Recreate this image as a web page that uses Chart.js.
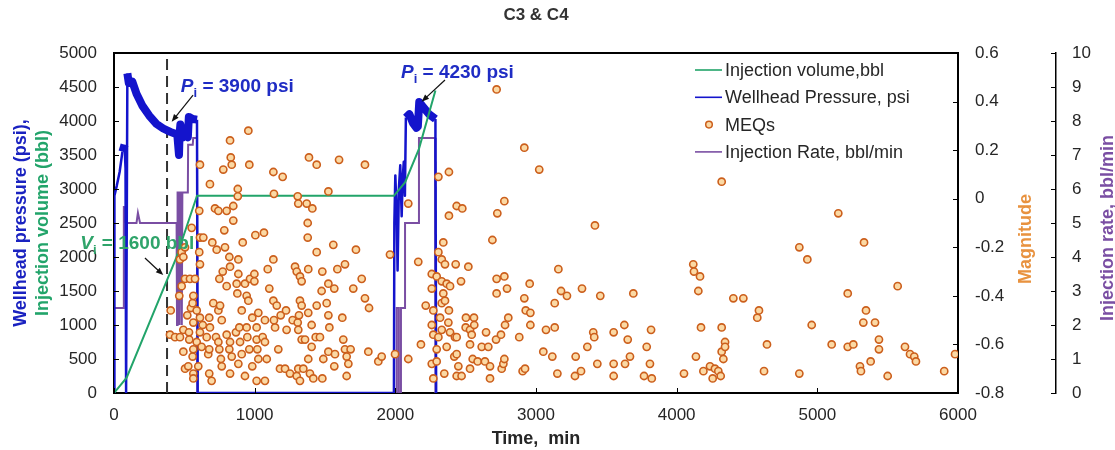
<!DOCTYPE html>
<html>
<head>
<meta charset="utf-8">
<title>C3 &amp; C4</title>
<script src="https://cdn.jsdelivr.net/npm/chart.js@4.4.1/dist/chart.umd.min.js"></script>
<style>
    body { margin: 0; background: #ffffff; }
</style>
</head>
<body>
<canvas id="injection_chart" width="1115" height="450"></canvas>
<script>
/**
 * axis ticks and their labels
 */
let timeTicks = [0, 1000, 2000, 3000, 4000, 5000, 6000];
let timeTickLabels = ['0', '1000', '2000', '3000', '4000', '5000', '6000'];
let pressureTicks = [0, 500, 1000, 1500, 2000, 2500, 3000, 3500, 4000, 4500, 5000];
let pressureTickLabels = ['0', '500', '1000', '1500', '2000', '2500', '3000', '3500', '4000', '4500', '5000'];
let magnitudeTicks = [-0.8, -0.6, -0.4, -0.2, 0, 0.2, 0.4, 0.6];
let magnitudeTickLabels = ['-0.8', '-0.6', '-0.4', '-0.2', '0', '0.2', '0.4', '0.6'];
let rateTicks = [0, 1, 2, 3, 4, 5, 6, 7, 8, 9, 10];
let rateTickLabels = ['0', '1', '2', '3', '4', '5', '6', '7', '8', '9', '10'];

/**
 * injection volume (bbl) over time (min)
 */
let volumeTime = [0, 90, 440, 590, 1990, 2070, 2168, 2285];
let volumeValue = [0, 225, 1975, 2900, 2900, 3100, 3590, 4450];

/**
 * wellhead pressure (psi) over time (min)
 */
let pressureTime = [0, 3, 20, 40, 60, 75, 82, 86, 92, 95, 105, 130, 160, 200, 250, 300, 350, 400, 450, 462,
    466, 472, 480, 490, 510, 525, 532, 560, 590, 595, 1990, 1993, 2000, 2010, 2016, 2025, 2035, 2045, 2052, 2060,
    2068, 2075, 2100, 2125, 2150, 2160, 2170, 2200, 2240, 2285, 2290];
let pressureValue = [0, 2900, 3050, 3250, 3550, 3650, 3300, 0, 0, 4700, 4560, 4580, 4400, 4230, 4080, 3960, 3890, 3840, 3800, 3500,
    3800, 3950, 3780, 3760, 3800, 3760, 4060, 4030, 4020, 0, 0, 2500, 3200, 2600, 1800, 3000, 3350, 2600, 3150, 3400,
    2900, 4050, 4100, 3970, 3900, 3920, 4280, 4200, 4100, 4030, 0];

/**
 * injection rate (bbl/min) over time (min)
 */
let rateTime = [0, 70, 70, 85, 160, 170, 185, 445, 448, 452, 462, 466, 470, 478, 482, 486, 525, 527, 560, 563,
    590, 592, 2010, 2010, 2025, 2025, 2040, 2040, 2069, 2069, 2168, 2168, 2282, 2285];
let rateValue = [2.5, 2.5, 5.5, 5.0, 5.0, 5.3, 5.0, 5.0, 2.0, 5.9, 5.9, 2.0, 5.9, 5.9, 2.0, 5.9, 5.9, 7.3, 7.3, 7.5,
    7.5, 0, 0, 2.5, 2.5, 0, 0, 2.5, 2.5, 5.0, 5.0, 7.5, 7.5, 0];

/**
 * microseismic events: time (min) and magnitude
 */
let meqTime = [
    398, 403, 434, 464, 469, 469, 481, 481, 493, 493,
    493, 505, 505, 505, 521, 528, 533, 535, 540, 547,
    552, 559, 559, 564, 564, 564, 564, 564, 576, 588,
    588, 599, 606, 606, 611, 611, 611, 611, 611, 623,
    631, 635, 659, 670, 677, 677, 677, 682, 682, 694,
    699, 706, 718, 725, 730, 742, 742, 742, 749, 749,
    754, 760, 766, 766, 773, 777, 784, 789, 801, 801,
    801, 820, 820, 825, 825, 825, 825, 830, 837, 837,
    848, 848, 867, 872, 877, 880, 880, 884, 884, 884,
    891, 896, 908, 908, 915, 931, 931, 943, 943, 948,
    955, 955, 962, 962, 967, 983, 983, 998, 998, 1005,
    1014, 1014, 1014, 1019, 1026, 1026, 1057, 1066, 1073, 1073,
    1073, 1086, 1093, 1104, 1133, 1133, 1133, 1137, 1137, 1145,
    1157, 1168, 1180, 1185, 1199, 1216, 1223, 1227, 1251, 1270,
    1287, 1299, 1299, 1306, 1306, 1310, 1310, 1310, 1315, 1322,
    1322, 1322, 1334, 1334, 1334, 1346, 1358, 1370, 1377, 1377,
    1381, 1381, 1381, 1386, 1393, 1405, 1405, 1410, 1417, 1434,
    1441, 1441, 1441, 1464, 1476, 1481, 1481, 1488, 1512, 1524,
    1524, 1524, 1524, 1531, 1559, 1566, 1566, 1571, 1588, 1600,
    1623, 1630, 1642, 1642, 1654, 1654, 1666, 1682, 1701, 1720,
    1761, 1784, 1784, 1808, 1813, 1879, 1903, 1962, 1998, 2092,
    2092, 2163, 2182, 2216, 2259, 2259, 2259, 2259, 2270, 2270,
    2270, 2294, 2294, 2294, 2306, 2306, 2306, 2318, 2330, 2330,
    2330, 2330, 2341, 2341, 2348, 2353, 2353, 2365, 2365, 2377,
    2381, 2381, 2381, 2389, 2389, 2419, 2424, 2429, 2436, 2436,
    2436, 2436, 2448, 2467, 2471, 2476, 2500, 2502, 2519, 2531,
    2531, 2531, 2543, 2550, 2559, 2561, 2585, 2614, 2637, 2645,
    2661, 2673, 2673, 2690, 2716, 2720, 2720, 2720, 2725, 2751,
    2756, 2768, 2775, 2775, 2775, 2780, 2794, 2803, 2881, 2905,
    2917, 2917, 2922, 2927, 2955, 2960, 2960, 3023, 3052, 3071,
    3116, 3133, 3133, 3152, 3159, 3178, 3220, 3277, 3282, 3320,
    3327, 3365, 3407, 3414, 3419, 3436, 3457, 3552, 3552, 3552,
    3628, 3633, 3652, 3668, 3692, 3768, 3787, 3810, 3818, 3823,
    4052, 4118, 4123, 4137, 4154, 4166, 4173, 4190, 4237, 4256,
    4272, 4296, 4313, 4320, 4320, 4320, 4332, 4344, 4344, 4403,
    4474, 4573, 4585, 4621, 4642, 4872, 4872, 4929, 4960, 5102,
    5149, 5216, 5216, 5256, 5303, 5310, 5327, 5332, 5346, 5379,
    5410, 5438, 5438, 5500, 5571, 5623, 5659, 5689, 5701, 5902, 5979
];
let meqMagnitude = [
    -0.56, -0.46, -0.57, -0.40, -0.57, -0.25, -0.22, -0.36, -0.24, -0.54,
    -0.63, -0.20, -0.33, -0.70, -0.48, -0.69, -0.55, -0.58, -0.33, -0.45,
    -0.12, -0.43, -0.65, -0.40, -0.51, -0.62, -0.72, -0.74, -0.33, -0.46,
    -0.59, -0.69, -0.05, -0.22, 0.14, -0.16, -0.27, -0.49, -0.55, -0.61,
    -0.52, -0.16, -0.57, -0.64, -0.49, -0.62, -0.72, 0.06, -0.53, -0.75,
    -0.18, -0.43, -0.04, -0.57, -0.21, -0.05, -0.46, -0.59, -0.33, -0.62,
    -0.44, -0.66, -0.50, -0.69, -0.30, 0.12, -0.13, -0.20, -0.05, -0.36,
    -0.56, -0.24, -0.62, 0.24, -0.28, -0.59, -0.72, 0.17, 0.14, -0.65,
    -0.03, -0.09, -0.55, -0.35, -0.39, 0.04, 0.01, -0.25, -0.31, -0.68,
    -0.53, -0.59, -0.46, -0.64, -0.18, -0.35, -0.73, -0.40, -0.53, -0.57,
    0.28, -0.42, 0.14, -0.62, -0.33, -0.49, -0.69, -0.31, -0.34, -0.15,
    -0.53, -0.58, -0.75, -0.62, -0.47, -0.66, -0.57, -0.14, -0.50, -0.59,
    -0.75, -0.66, -0.29, -0.37, 0.11, -0.25, -0.42, 0.02, -0.50, -0.53,
    -0.44, -0.62, -0.70, -0.48, 0.09, -0.70, -0.46, -0.54, -0.72, -0.50,
    -0.28, -0.30, -0.73, 0.01, -0.51, -0.02, -0.54, -0.70, -0.48, -0.32,
    -0.42, -0.75, -0.34, -0.44, -0.58, -0.70, -0.58, -0.02, -0.10, -0.16,
    -0.29, -0.47, -0.66, 0.17, -0.72, -0.52, -0.61, -0.04, -0.74, -0.57,
    0.14, -0.22, -0.44, -0.57, -0.38, -0.30, -0.74, -0.66, -0.43, 0.03,
    -0.35, -0.48, -0.63, -0.53, -0.19, -0.37, -0.69, -0.64, -0.29, 0.16,
    -0.49, -0.58, -0.27, -0.62, -0.65, -0.73, -0.68, -0.62, -0.37, -0.21,
    -0.33, 0.14, -0.41, -0.63, -0.45, -0.67, -0.65, -0.23, -0.64, -0.02,
    -0.66, -0.26, -0.60, -0.44, -0.31, -0.37, -0.52, -0.68, -0.46, -0.56,
    -0.74, -0.32, -0.62, -0.67, 0.09, -0.22, -0.57, -0.49, -0.25, -0.34,
    -0.43, -0.54, -0.18, -0.39, -0.72, -0.27, -0.42, -0.35, -0.61, -0.51,
    0.11, -0.07, -0.46, -0.36, -0.55, -0.65, -0.57, -0.27, -0.03, -0.57,
    -0.64, -0.73, -0.69, -0.34, -0.73, -0.04, -0.53, -0.49, -0.28, -0.54,
    -0.60, -0.70, -0.56, -0.66, -0.49, -0.52, -0.67, -0.61, -0.67, -0.55,
    -0.61, -0.69, -0.74, -0.17, -0.58, 0.45, -0.33, -0.39, -0.06, -0.56,
    -0.70, -0.68, -0.01, -0.32, -0.66, -0.52, -0.37, -0.49, -0.57, -0.71,
    0.21, -0.41, -0.70, -0.46, -0.35, -0.47, -0.52, 0.12, -0.63, -0.54,
    -0.65, -0.43, -0.53, -0.72, -0.29, -0.38, -0.40, -0.73, -0.65, -0.71,
    -0.37, -0.61, -0.55, -0.57, -0.11, -0.68, -0.40, -0.55, -0.68, -0.73,
    -0.52, -0.68, -0.58, -0.65, -0.39, -0.73, -0.61, -0.68, -0.54, -0.74,
    -0.72, -0.27, -0.30, -0.65, -0.38, -0.32, -0.53, -0.71, -0.69, -0.74,
    -0.70, -0.71, -0.73, 0.07, -0.53, -0.63, -0.66, -0.59, -0.61, -0.41,
    -0.41, -0.49, -0.46, -0.71, -0.60, -0.20, -0.72, -0.25, -0.52, -0.60,
    -0.06, -0.39, -0.61, -0.60, -0.69, -0.71, -0.51, -0.18, -0.46, -0.67,
    -0.51, -0.58, -0.62, -0.73, -0.36, -0.61, -0.64, -0.65, -0.67, -0.71, -0.64
];

/**
 * time of the dashed marker line (min)
 */
let markerTime = [377, 377];
let markerValue = [0, 5000];


const FONT_FAMILY = '"Liberation Sans", Arial, sans-serif';
const TEXT_COLOR = '#262626';
const VOLUME_GREEN = '#22a46a';
const PRESSURE_BLUE = '#1414cc';
const RATE_PURPLE = '#7a4ea3';
const MEQ_BORDER = '#cc5f1c';
const MEQ_FILL = '#fbd9a4';
const MAGNITUDE_ORANGE = '#e8923f';

Chart.defaults.font.family = FONT_FAMILY;


/**
 * turns two parallel arrays into {x, y} points
 */
function toPoints(xs, ys) {
    return xs.map((x, i) => ({ x: x, y: ys[i] }));
}


/**
 * sets the ticks of a scale from a list of values
 */
function fixedTicks(values) {
    return function (scale) {
        scale.ticks = values.map(v => ({ value: v }));
    };
}


/**
 * draws a thin black arrow with a filled head at (x2, y2)
 */
function drawArrow(ctx, x1, y1, x2, y2) {
    const angle = Math.atan2(y2 - y1, x2 - x1);
    const head = 8;
    ctx.strokeStyle = '#111';
    ctx.fillStyle = '#111';
    ctx.lineWidth = 1.2;
    ctx.beginPath();
    ctx.moveTo(x1, y1);
    ctx.lineTo(x2 - Math.cos(angle) * head * 0.7, y2 - Math.sin(angle) * head * 0.7);
    ctx.stroke();
    ctx.beginPath();
    ctx.moveTo(x2, y2);
    ctx.lineTo(x2 - head * Math.cos(angle - 0.38), y2 - head * Math.sin(angle - 0.38));
    ctx.lineTo(x2 - head * Math.cos(angle + 0.38), y2 - head * Math.sin(angle + 0.38));
    ctx.closePath();
    ctx.fill();
}


/**
 * draws a label like "P_i = 3900 psi" with an italic letter and a subscript
 */
function drawSubscriptLabel(ctx, x, y, letter, sub, rest, color) {
    ctx.fillStyle = color;
    ctx.textAlign = 'left';
    ctx.textBaseline = 'alphabetic';
    ctx.font = 'italic bold 19px ' + FONT_FAMILY;
    ctx.fillText(letter, x, y);
    x += ctx.measureText(letter).width;
    ctx.font = 'bold 13px ' + FONT_FAMILY;
    ctx.fillText(sub, x, y + 5);
    x += ctx.measureText(sub).width;
    ctx.font = 'bold 19px ' + FONT_FAMILY;
    ctx.fillText(rest, x, y);
}


/**
 * annotations placed in data units (time, pressure)
 */
const annotations = [
    { letter: 'P', sub: 'i', rest: ' = 3900 psi', t: 475, p: 4420, color: '#1f2cc4', arrow: [562, 4382, 410, 3990] },
    { letter: 'P', sub: 'i', rest: ' = 4230 psi', t: 2040, p: 4628, color: '#1f2cc4', arrow: [2353, 4603, 2187, 4284] },
    { letter: 'V', sub: 'i', rest: ' = 1600 bbl', t: -240, p: 2113, color: '#2fa46a', arrow: [220, 1985, 350, 1735] }
];


/**
 * plugin for the inward ticks, right axis titles, legend and annotations
 */
const chartDecorations = {
    id: 'chartDecorations',
    afterDraw(chart) {
        const ctx = chart.ctx;
        const area = chart.chartArea;
        const sx = chart.scales.x;
        const sy = chart.scales.y;
        const sm = chart.scales.mag;
        const sr = chart.scales.rate;
        ctx.save();

        // tick marks pointing into the plot
        ctx.strokeStyle = '#000';
        ctx.lineWidth = 1;
        ctx.beginPath();
        timeTicks.forEach(v => {
            const px = Math.round(sx.getPixelForValue(v)) + 0.5;
            ctx.moveTo(px, area.bottom);
            ctx.lineTo(px, area.bottom - 5);
        });
        pressureTicks.forEach(v => {
            const py = Math.round(sy.getPixelForValue(v)) + 0.5;
            ctx.moveTo(area.left, py);
            ctx.lineTo(area.left + 5, py);
        });
        magnitudeTicks.forEach(v => {
            const py = Math.round(sm.getPixelForValue(v)) + 0.5;
            ctx.moveTo(area.right, py);
            ctx.lineTo(area.right - 5, py);
        });
        rateTicks.forEach(v => {
            const py = Math.round(sr.getPixelForValue(v)) + 0.5;
            ctx.moveTo(sr.left, py);
            ctx.lineTo(sr.left - 5, py);
        });
        ctx.stroke();

        // right axis titles, reading upwards
        ctx.font = 'bold 18px ' + FONT_FAMILY;
        ctx.textAlign = 'center';
        ctx.textBaseline = 'middle';
        ctx.save();
        ctx.translate(sm.right - 30, (area.top + area.bottom) / 2 + 16);
        ctx.rotate(-Math.PI / 2);
        ctx.fillStyle = MAGNITUDE_ORANGE;
        ctx.fillText('Magnitude', 0, 0);
        ctx.restore();
        ctx.save();
        ctx.translate(sr.right - 7, (area.top + area.bottom) / 2 + 5);
        ctx.rotate(-Math.PI / 2);
        ctx.fillStyle = RATE_PURPLE;
        ctx.fillText('Injection rate, bbl/min', 0, 0);
        ctx.restore();

        // legend inside the plot, top right
        const legendDatasets = chart.data.datasets.filter(d => d.label);
        let rowY = 70;
        legendDatasets.forEach(d => {
            if (d.showLine === false) {
                ctx.beginPath();
                ctx.arc(709, rowY, 3.3, 0, Math.PI * 2);
                ctx.fillStyle = MEQ_FILL;
                ctx.fill();
                ctx.lineWidth = 1.5;
                ctx.strokeStyle = MEQ_BORDER;
                ctx.stroke();
            } else {
                ctx.beginPath();
                ctx.moveTo(695, rowY);
                ctx.lineTo(722, rowY);
                ctx.lineWidth = 1.6;
                ctx.strokeStyle = d.borderColor;
                ctx.stroke();
            }
            ctx.font = '18px ' + FONT_FAMILY;
            ctx.fillStyle = TEXT_COLOR;
            ctx.textAlign = 'left';
            ctx.textBaseline = 'middle';
            ctx.fillText(d.label, 725, rowY + 1);
            rowY += 27.3;
        });

        // annotations with arrows
        annotations.forEach(a => {
            drawSubscriptLabel(ctx, sx.getPixelForValue(a.t), sy.getPixelForValue(a.p), a.letter, a.sub, a.rest, a.color);
            drawArrow(ctx,
                sx.getPixelForValue(a.arrow[0]), sy.getPixelForValue(a.arrow[1]),
                sx.getPixelForValue(a.arrow[2]), sy.getPixelForValue(a.arrow[3]));
        });

        ctx.restore();
    }
};


const tickFont = { size: 17, family: FONT_FAMILY };
const titleFont = { size: 18, weight: 'bold', family: FONT_FAMILY };
const noGrid = { display: false, drawTicks: false };

const chartConfig = {
    type: 'scatter',
    data: {
        datasets: [
            {
                label: 'Injection volume,bbl',
                data: toPoints(volumeTime, volumeValue),
                showLine: true,
                borderColor: VOLUME_GREEN,
                borderWidth: 2,
                pointRadius: 0,
                yAxisID: 'y',
                order: 1
            },
            {
                label: 'Wellhead Pressure, psi',
                data: toPoints(pressureTime, pressureValue),
                showLine: true,
                borderColor: PRESSURE_BLUE,
                borderWidth: 2.5,
                borderJoinStyle: 'round',
                pointRadius: 0,
                yAxisID: 'y',
                order: 2,
                segment: {
                    borderWidth: ctx => (ctx.p0.parsed.y > 3400 && ctx.p1.parsed.y > 3400) ? 8 : 2.5
                }
            },
            {
                label: 'MEQs',
                data: toPoints(meqTime, meqMagnitude),
                showLine: false,
                pointRadius: 3.6,
                pointBorderWidth: 1.6,
                pointBorderColor: MEQ_BORDER,
                pointBackgroundColor: MEQ_FILL,
                yAxisID: 'mag',
                order: 0
            },
            {
                label: 'Injection Rate, bbl/min',
                data: toPoints(rateTime, rateValue),
                showLine: true,
                borderColor: RATE_PURPLE,
                borderWidth: 2,
                pointRadius: 0,
                yAxisID: 'rate',
                order: 3
            },
            {
                label: '',
                data: toPoints(markerTime, markerValue),
                showLine: true,
                borderColor: '#333333',
                borderWidth: 2,
                borderDash: [11, 6],
                pointRadius: 0,
                yAxisID: 'y',
                order: 5
            }
        ]
    },
    options: {
        responsive: false,
        animation: false,
        devicePixelRatio: 1,
        events: [],
        layout: { padding: 0 },
        plugins: {
            legend: { display: false },
            title: { display: false },
            tooltip: { enabled: false }
        },
        scales: {
            x: {
                type: 'linear',
                position: 'bottom',
                min: 0,
                max: 6000,
                afterBuildTicks: fixedTicks(timeTicks),
                afterFit: scale => { scale.height = 57; },
                grid: noGrid,
                border: { display: true, color: '#000', width: 2 },
                ticks: {
                    color: TEXT_COLOR,
                    font: tickFont,
                    padding: 12,
                    maxRotation: 0,
                    autoSkip: false,
                    callback: (v, i) => timeTickLabels[i]
                },
                title: {
                    display: true,
                    text: 'Time,  min',
                    color: TEXT_COLOR,
                    font: titleFont,
                    padding: { top: 0, bottom: 0 }
                }
            },
            xTop: {
                type: 'linear',
                position: 'top',
                min: 0,
                max: 6000,
                afterFit: scale => { scale.height = 53; },
                grid: noGrid,
                border: { display: true, color: '#000', width: 2 },
                ticks: { display: false },
                title: {
                    display: true,
                    text: 'C3 & C4',
                    color: '#333333',
                    font: { size: 17, weight: 'bold', family: FONT_FAMILY },
                    padding: { top: 5, bottom: 0 }
                }
            },
            yTitle: {
                type: 'linear',
                position: 'left',
                weight: 2,
                min: 0,
                max: 1,
                afterFit: scale => { scale.width = 30; },
                grid: noGrid,
                border: { display: false },
                ticks: { display: false },
                title: {
                    display: true,
                    text: 'Wellhead pressure (psi),',
                    color: '#1a22c0',
                    font: titleFont,
                    padding: { top: 10, bottom: 0 }
                }
            },
            y: {
                type: 'linear',
                position: 'left',
                weight: 1,
                min: 0,
                max: 5000,
                afterBuildTicks: fixedTicks(pressureTicks),
                afterFit: scale => { scale.width = 84; },
                grid: noGrid,
                border: { display: true, color: '#000', width: 2 },
                ticks: {
                    color: TEXT_COLOR,
                    font: tickFont,
                    padding: 17,
                    autoSkip: false,
                    callback: (v, i) => pressureTickLabels[i]
                },
                title: {
                    display: true,
                    text: 'Injection volume (bbl)',
                    color: VOLUME_GREEN,
                    font: titleFont,
                    padding: { top: 2, bottom: 0 }
                }
            },
            mag: {
                type: 'linear',
                position: 'right',
                weight: 0,
                min: -0.8,
                max: 0.6,
                afterBuildTicks: fixedTicks(magnitudeTicks),
                afterFit: scale => { scale.width = 98; },
                grid: noGrid,
                border: { display: true, color: '#000', width: 2 },
                ticks: {
                    color: TEXT_COLOR,
                    font: tickFont,
                    padding: 17,
                    autoSkip: false,
                    callback: (v, i) => magnitudeTickLabels[i]
                }
            },
            rate: {
                type: 'linear',
                position: 'right',
                weight: 1,
                min: 0,
                max: 10,
                afterBuildTicks: fixedTicks(rateTicks),
                afterFit: scale => { scale.width = 59; },
                grid: noGrid,
                border: { display: true, color: '#000', width: 1.5 },
                ticks: {
                    color: TEXT_COLOR,
                    font: tickFont,
                    padding: 16,
                    autoSkip: false,
                    callback: (v, i) => rateTickLabels[i]
                }
            }
        }
    },
    plugins: [chartDecorations]
};


/**
 * renders the injection chart
 */
function renderInjectionChart() {
    const injectionChart = new Chart(
        document.getElementById('injection_chart'),
        chartConfig
    );
}

renderInjectionChart();
</script>
</body>
</html>
